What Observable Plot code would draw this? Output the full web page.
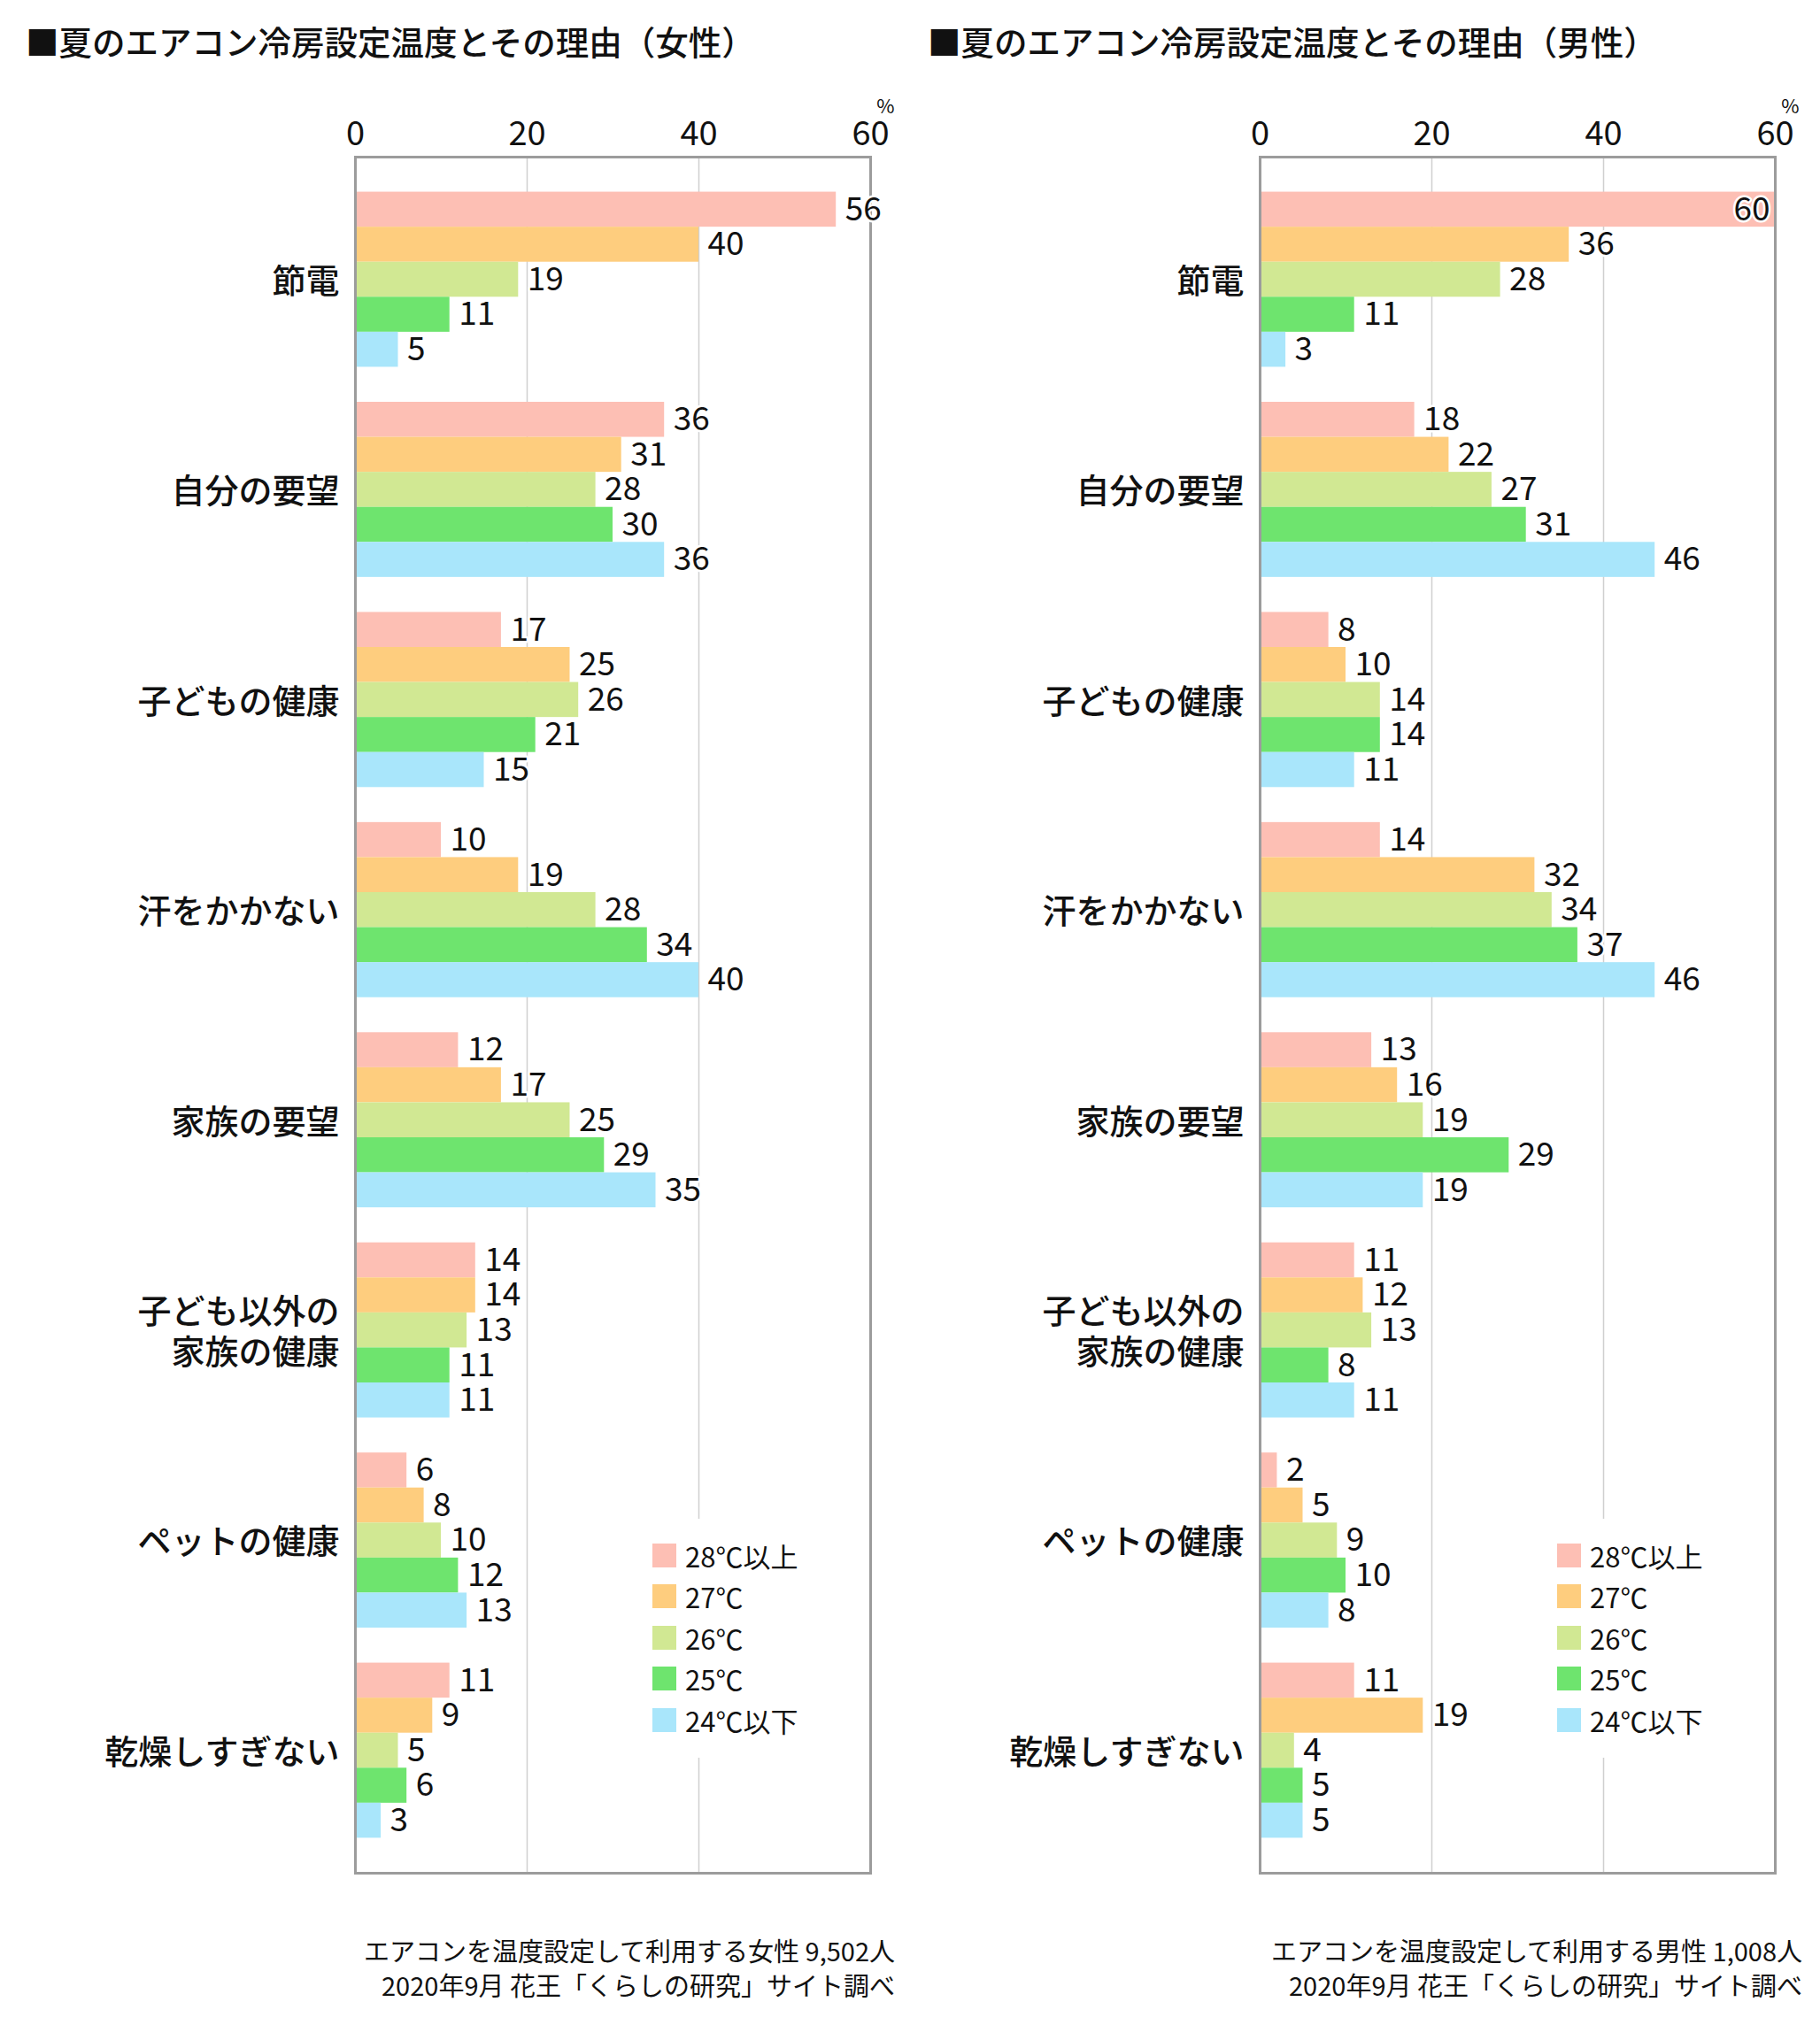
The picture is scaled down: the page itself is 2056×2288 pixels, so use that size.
<!DOCTYPE html>
<html><head><meta charset="utf-8">
<script src="https://cdn.jsdelivr.net/npm/d3@7"></script>
<script src="https://cdn.jsdelivr.net/npm/@observablehq/plot@0.6"></script>
<style>
body{margin:0;background:#fff;font-family:"Noto Sans CJK JP","Noto Sans",sans-serif;color:#111;}
#wrap{position:relative;width:2056px;height:2288px;overflow:hidden;}
.panel{position:absolute;top:0;}
.title{height:80px;box-sizing:border-box;padding:23px 0 0 29px;font-size:37.5px;line-height:46px;font-weight:500;white-space:nowrap;}
.note{padding-top:48px;text-align:right;font-size:29px;line-height:39px;white-space:nowrap;}
.legend{position:absolute;background:#fff;box-sizing:border-box;}
.legend .row{display:flex;align-items:center;height:46.5px;font-size:31px;}
.legend .sw{width:27px;height:27px;margin-right:10px;flex:none;}
svg{display:block;}
</style>
</head><body>
<div id="wrap"></div>
<script>
const categories = ["節電","自分の要望","子どもの健康","汗をかかない","家族の要望","子ども以外の\n家族の健康","ペットの健康","乾燥しすぎない"];
const series = ["28℃以上","27℃","26℃","25℃","24℃以下"];
const colors = ["#fdbfb4","#fecd7e","#d1e893","#6ee46e","#a9e6fb"];
const xTicks = [0,20,40,60];

const femaleValues = [
  [56,40,19,11,5],
  [36,31,28,30,36],
  [17,25,26,21,15],
  [10,19,28,34,40],
  [12,17,25,29,35],
  [14,14,13,11,11],
  [6,8,10,12,13],
  [11,9,5,6,3]
];
const maleValues = [
  [60,36,28,11,3],
  [18,22,27,31,46],
  [8,10,14,14,11],
  [14,32,34,37,46],
  [13,16,19,29,19],
  [11,12,13,8,11],
  [2,5,9,10,8],
  [11,19,4,5,5]
];

const femaleTitle = "■夏のエアコン冷房設定温度とその理由（女性）";
const maleTitle = "■夏のエアコン冷房設定温度とその理由（男性）";
const femaleNote = ["エアコンを温度設定して利用する女性 9,502人","2020年9月 花王「くらしの研究」サイト調べ"];
const maleNote = ["エアコンを温度設定して利用する男性 1,008人","2020年9月 花王「くらしの研究」サイト調べ"];

function makeChart(values, width, marginLeft, marginRight) {
  const rows = [];
  const domain = [];
  categories.forEach((c, i) => {
    domain.push("gap" + i);
    series.forEach((s, j) => {
      domain.push(i + "|" + j);
      rows.push({key: i + "|" + j, category: c, series: s, value: values[i][j]});
    });
  });
  domain.push("gap" + categories.length);
  const labelRows = categories.map((c, i) => ({key: i + "|2", label: c}));
  const inside = rows.filter(d => d.value >= 58);
  const outside = rows.filter(d => d.value < 58);
  return Plot.plot({
    width, height: 2056,
    marginTop: 97, marginBottom: 20, marginLeft, marginRight,
    style: {fontFamily: '"Noto Sans CJK JP","Noto Sans",sans-serif', fontSize: "36px", color: "#111", background: "transparent"},
    x: {domain: [0, 60], axis: null},
    y: {domain, padding: 0, round: false, axis: null},
    color: {domain: series, range: colors},
    marks: [
      Plot.ruleX([20, 40], {stroke: "#d0d0d0", strokeWidth: 1.5}),
      Plot.barX(rows, {x: "value", y: "key", fill: "series"}),
      Plot.frame({stroke: "#9c9c9c", strokeWidth: 3}),
      Plot.axisX(xTicks, {anchor: "top", tickSize: 0, tickPadding: 14, fontSize: 38, label: null}),
      Plot.text(["%"], {frameAnchor: "top-right", dx: 27, dy: -65, fontSize: 22}),
      Plot.text(outside, {x: "value", y: "key", text: d => String(d.value), textAnchor: "start", dx: 10, fontSize: 37, fill: "#111", stroke: "white", strokeWidth: 5}),
      Plot.text(inside, {x: "value", y: "key", text: d => String(d.value), textAnchor: "end", dx: -6, fontSize: 37, fill: "#111", stroke: "white", strokeWidth: 5}),
      Plot.text(labelRows, {y: "key", text: "label", frameAnchor: "left", textAnchor: "end", dx: -18, fontSize: 38, fontWeight: 500, lineHeight: 1.22, fill: "#111"})
    ]
  });
}

function makePanel(left, width, marginLeft, marginRight, noteRight, legendLeft, title, values, note) {
  const panel = d3.select("#wrap").append("div").attr("class", "panel")
    .style("left", left + "px").style("width", width + "px");
  panel.append("div").attr("class", "title").text(title);
  panel.node().appendChild(makeChart(values, width, marginLeft, marginRight));
  const n = panel.append("div").attr("class", "note").style("padding-right", noteRight + "px");
  note.forEach(t => n.append("div").text(t));
  const lg = panel.append("div").attr("class", "legend")
    .style("left", legendLeft + "px").style("top", "1716px")
    .style("padding", "18px 20px 19px 12px");
  series.forEach((s, j) => {
    const r = lg.append("div").attr("class", "row");
    r.append("div").attr("class", "sw").style("background", colors[j]);
    r.append("div").text(s);
  });
}

makePanel(0, 1019, 401, 36, 8, 725, femaleTitle, femaleValues, femaleNote);
makePanel(1019, 1037, 404, 51, 20, 728, maleTitle, maleValues, maleNote);
</script>
</body></html>
